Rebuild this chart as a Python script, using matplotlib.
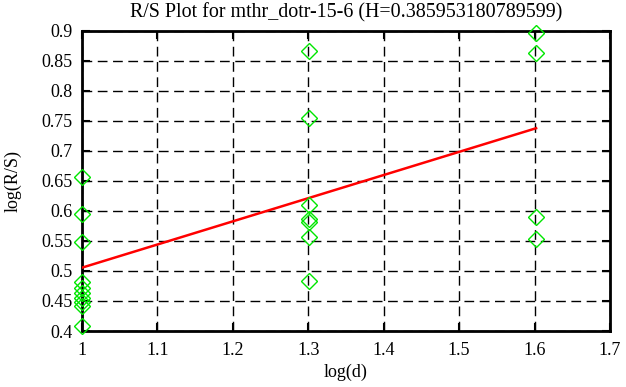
import numpy as np
import matplotlib
matplotlib.use('Agg')
import matplotlib.pyplot as plt

# log(d) per group and the measured log(R/S) values
x_groups = [1.0, 1.30103, 1.60206]
rs_at_10 = [0.657, 0.595, 0.549, 0.481, 0.471, 0.463, 0.455, 0.448, 0.441, 0.409]
rs_at_20 = [0.866, 0.755, 0.610, 0.587, 0.582, 0.557, 0.483]
rs_at_40 = [0.897, 0.864, 0.590, 0.553]

hurst = 0.385953180789599
intercept = 0.1196

x_ticks = [1, 1.1, 1.2, 1.3, 1.4, 1.5, 1.6, 1.7]
y_ticks = [0.4, 0.45, 0.5, 0.55, 0.6, 0.65, 0.7, 0.75, 0.8, 0.85, 0.9]

plt.rcParams['font.family'] = ['Liberation Serif', 'DejaVu Serif']
plt.rcParams['font.size'] = 13

fig = plt.figure(figsize=(6.26, 3.87), dpi=100)
ax = fig.add_axes([0.131, 0.1447, 0.8434, 0.7753])

xs = []
ys = []
for xg, vals in zip(x_groups, [rs_at_10, rs_at_20, rs_at_40]):
    xs += [xg] * len(vals)
    ys += vals

ax.plot(xs, ys, linestyle='none', marker='D', markersize=8,
        markerfacecolor='none', markeredgecolor='#00e600',
        markeredgewidth=1.0, clip_on=False, zorder=4)

fit_x = np.array([x_groups[0], x_groups[-1]])
ax.plot(fit_x, intercept + hurst * fit_x, color='#ff0000', linewidth=1.8,
        zorder=3)

ax.set_xlim(1, 1.7)
ax.set_ylim(0.4, 0.9)
ax.set_xticks(x_ticks)
ax.set_xticklabels([f'{t:g}' for t in x_ticks])
ax.set_yticks(y_ticks)
ax.set_yticklabels([f'{t:g}' for t in y_ticks])

ax.grid(True, color='black', linestyle=(0, (7, 4)), linewidth=1.0)
ax.tick_params(direction='in', length=6, width=1.5, top=True, right=True,
               pad=8)
ax.tick_params(axis='y', pad=7)
for sp in ax.spines.values():
    sp.set_linewidth(2)

ax.set_title('R/S Plot for mthr_dotr-15-6 (H=0.385953180789599)',
             fontsize=14.4, pad=10)
ax.set_xlabel('log(d)', labelpad=3)
ax.set_ylabel('log(R/S)', labelpad=14)

fig.savefig('out.png', dpi=100)
